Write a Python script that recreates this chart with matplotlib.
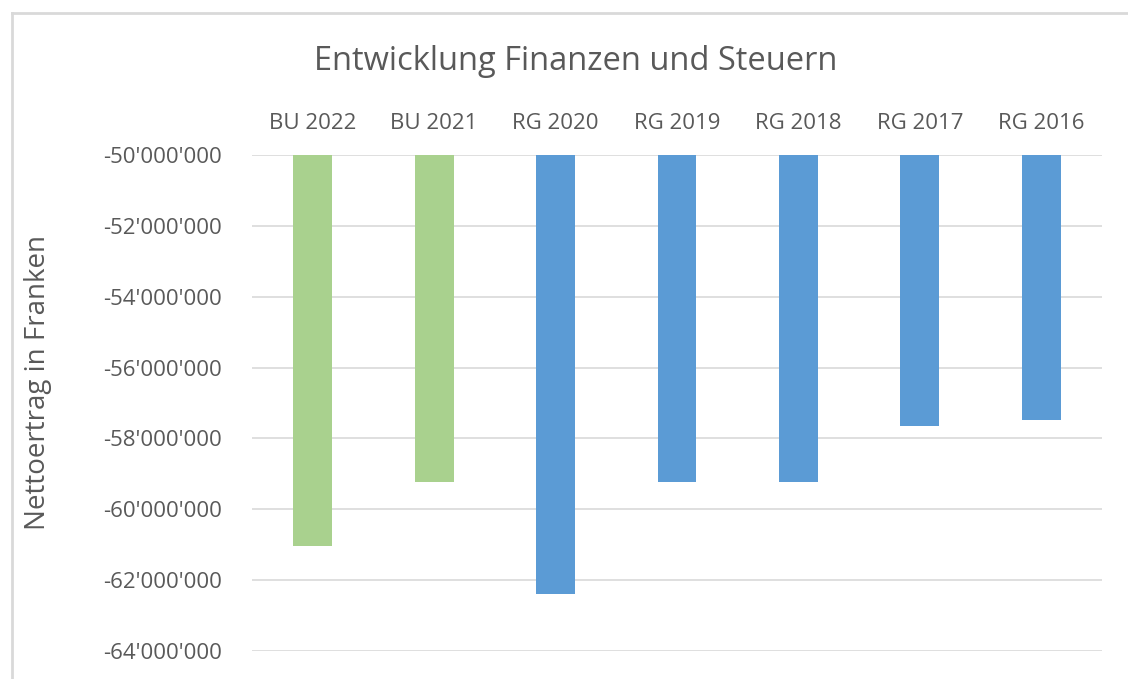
import matplotlib
matplotlib.use("Agg")
import matplotlib.pyplot as plt
from matplotlib.lines import Line2D
from matplotlib.ticker import FuncFormatter

categories = ["BU 2022", "BU 2021", "RG 2020", "RG 2019", "RG 2018", "RG 2017", "RG 2016"]
values = [-61040000, -59240000, -62400000, -59240000, -59240000, -57640000, -57470000]
bar_colors = ["#A9D18E", "#A9D18E", "#5B9BD5", "#5B9BD5", "#5B9BD5", "#5B9BD5", "#5B9BD5"]
yticks = list(range(-64000000, -49999999, 2000000))
title = "Entwicklung Finanzen und Steuern"
ylabel = "Nettoertrag in Franken"

plt.rcParams['font.family'] = ['Open Sans', 'DejaVu Sans']
W, H = 1128, 679
fig = plt.figure(figsize=(W / 100, H / 100), dpi=100)
fig.patch.set_facecolor("white")

ax = fig.add_axes([252 / W, 1 - 651 / H, (1102 - 252) / W, (651 - 155) / H])
base = -50000000
x = list(range(len(categories)))
ax.bar(x, [v - base for v in values], bottom=base, width=0.32, color=bar_colors, zorder=3)
ax.set_ylim(-64000000, -50000000)
ax.set_xlim(-0.5, len(categories) - 0.5)
ax.set_yticks(yticks)
ax.yaxis.set_major_formatter(FuncFormatter(lambda v, p: "-" + f"{abs(int(v)):,}".replace(",", "'") if v < 0 else f"{int(v):,}".replace(",", "'")))
ax.set_xticks(x)
ax.set_xticklabels(categories)
ax.xaxis.tick_top()
ax.tick_params(axis="x", length=0, pad=15, labelsize=16, colors="#595959")
ax.tick_params(axis="y", length=0, pad=21.5, labelsize=16, colors="#595959")
ax.grid(axis="y", color="#D9D9D9", linewidth=1.2, zorder=0)
for s in ax.spines.values():
    s.set_visible(False)

fig.text(576 / W, 1 - 62 / H, title, ha="center", va="center", fontsize=23.5, color="#595959")
fig.text(38 / W, 1 - 382 / H, ylabel, ha="center", va="center", rotation=90, fontsize=20, color="#595959")

# chart border
fig.add_artist(Line2D([12 / W, 1], [1 - 13 / H, 1 - 13 / H], transform=fig.transFigure, color="#D9D9D9", linewidth=2))
fig.add_artist(Line2D([12 / W, 12 / W], [1 - 13 / H, 0], transform=fig.transFigure, color="#D9D9D9", linewidth=2))

fig.savefig("out.png", dpi=100, facecolor="white")
